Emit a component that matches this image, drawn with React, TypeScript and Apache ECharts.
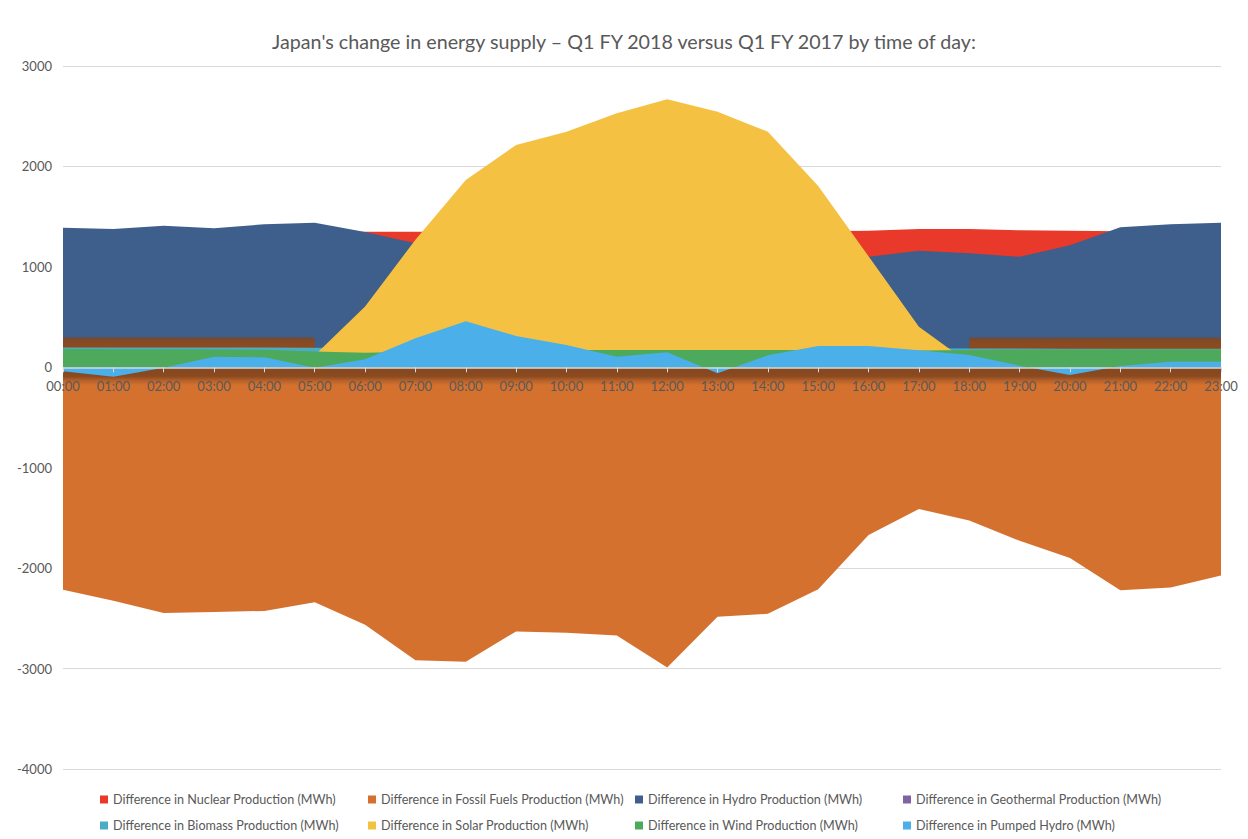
import React, { useEffect, useRef } from "react";
import * as echarts from "echarts";

const hours = [
  "00:00", "01:00", "02:00", "03:00", "04:00", "05:00", "06:00", "07:00",
  "08:00", "09:00", "10:00", "11:00", "12:00", "13:00", "14:00", "15:00",
  "16:00", "17:00", "18:00", "19:00", "20:00", "21:00", "22:00", "23:00",
];

const nuclear = [1330, 1330, 1330, 1335, 1340, 1340, 1350, 1350, 1350, 1350, 1350, 1350, 1350, 1350, 1355, 1355, 1360, 1377, 1377, 1364, 1360, 1355, 1350, 1350];
const fossil = [-2215, -2325, -2446, -2436, -2426, -2340, -2564, -2917, -2931, -2630, -2644, -2670, -2990, -2485, -2455, -2209, -1671, -1412, -1525, -1728, -1900, -2219, -2193, -2073];
const hydro = [1390, 1377, 1410, 1384, 1424, 1440, 1348, 1235, 1200, 1180, 1170, 1160, 1150, 1150, 1140, 1130, 1100, 1160, 1135, 1100, 1215, 1395, 1425, 1440];
const geothermal: (number | null)[] = [302, 302, 302, 302, 302, 302, null, null, null, null, null, null, null, null, null, null, null, null, 300, 300, 300, 300, 300, 300];
const biomass = [198, 198, 198, 198, 198, 195, 190, 190, 190, 190, 190, 190, 190, 190, 190, 190, 190, 190, 188, 186, 185, 185, 185, 185];
const solar = [0, 0, 0, 0, 0, 120, 605, 1270, 1865, 2214, 2346, 2529, 2668, 2545, 2346, 1805, 1105, 404, 40, 0, 0, 0, 0, 0];
const wind = [182, 180, 180, 178, 175, 157, 145, 155, 165, 170, 172, 172, 172, 172, 172, 172, 170, 168, 172, 176, 178, 180, 180, 180];
const pumped = [-40, -93, -5, 105, 100, -5, 80, 290, 458, 312, 222, 106, 149, -60, 119, 212, 212, 170, 122, 16, -77, 13, 56, 56];

const yMin = -4000;
const yMax = 3000;
const yStep = 1000;

const names = [
  "Difference in Nuclear Production (MWh)",
  "Difference in Fossil Fuels Production (MWh)",
  "Difference in Hydro Production (MWh)",
  "Difference in Geothermal Production (MWh)",
  "Difference in Biomass Production (MWh)",
  "Difference in Solar Production (MWh)",
  "Difference in Wind Production (MWh)",
  "Difference in Pumped Hydro (MWh)",
];

const colors = ["#E8392A", "#D5712E", "#3E5E8C", "#8064A2", "#4BACC6", "#F5C143", "#4DAA5C", "#4BAFEA"];

const FONT = "Lato, 'Open Sans', sans-serif";

export default function App() {
  const ref = useRef<HTMLDivElement>(null);

  useEffect(() => {
    if (!ref.current) return;
    const chart = echarts.init(ref.current, undefined, { renderer: "svg" });

    const datasets = [nuclear, fossil, hydro, geothermal, biomass, solar, wind, pumped];

    const areaColor = (i: number): any => {
      if (i === 1) {
        return new echarts.graphic.LinearGradient(0, 0, 0, 1, [
          { offset: 0, color: "#85471F" },
          { offset: 0.03, color: "#8B4A20" },
          { offset: 0.045, color: "#B8622A" },
          { offset: 0.06, color: "#D5712E" },
          { offset: 1, color: "#D5712E" },
        ]);
      }
      if (i === 3) {
        return new echarts.graphic.LinearGradient(0, 0, 0, 1, [
          { offset: 0, color: "#5E5156" },
          { offset: 0.08, color: "#7A4A2C" },
          { offset: 0.2, color: "#8B4A20" },
          { offset: 1, color: "#8B4A20" },
        ]);
      }
      return colors[i];
    };

    const series = datasets.map((d, i) => ({
      name: names[i],
      type: "line",
      data: d,
      showSymbol: false,
      symbol: "none",
      connectNulls: false,
      lineStyle: { width: 0 },
      itemStyle: { color: colors[i] },
      areaStyle: { color: areaColor(i), opacity: 1 },
      emphasis: { disabled: true },
      z: 2,
    }));

    const gridTop = 66;
    const gridBottom = 70;
    const gridH = 839 - gridTop - gridBottom;
    const zeroFromBottom = (gridH * (0 - yMin)) / (yMax - yMin);

    const iconX = [100, 368, 635, 903];
    const rowY = [793, 819];
    const legends = names.map((n, i) => ({
      data: [n],
      left: iconX[i % 4],
      top: rowY[Math.floor(i / 4)],
      icon: "rect",
      itemWidth: 8,
      itemHeight: 8,
      padding: 0,
      textStyle: { color: "#595959", fontSize: 12.6, fontFamily: FONT },
    }));

    chart.setOption({
      animation: false,
      backgroundColor: "#ffffff",
      textStyle: { fontFamily: FONT },
      title: {
        text: "Japan's change in energy supply \u2013 Q1 FY 2018 versus Q1 FY 2017 by time of day:",
        left: "center",
        top: 26,
        textStyle: { color: "#595959", fontSize: 19.7, fontWeight: "normal", fontFamily: FONT },
      },
      legend: legends,
      grid: { left: 63, right: 27, top: gridTop, bottom: gridBottom, containLabel: false },
      xAxis: {
        type: "category",
        data: hours,
        boundaryGap: false,
        z: 10,
        offset: -zeroFromBottom,
        axisLine: { onZero: false, lineStyle: { color: "#D9D9D9", width: 1.5 } },
        axisTick: { show: true, length: 5, lineStyle: { color: "#D9D9D9" } },
        axisLabel: { color: "#595959", fontSize: 13, margin: 12, interval: 0, fontFamily: FONT },
        splitLine: { show: false },
      },
      yAxis: {
        type: "value",
        min: yMin,
        max: yMax,
        interval: yStep,
        axisLine: { show: false },
        axisTick: { show: false },
        axisLabel: {
          color: "#595959",
          fontSize: 13,
          margin: 11,
          fontFamily: FONT,
          formatter: (v: number) => String(v),
        },
        splitLine: { lineStyle: { color: "#D9D9D9", width: 1 } },
      },
      series,
    });

    return () => chart.dispose();
  }, []);

  return (
    <div
      ref={ref}
      style={{ position: "fixed", left: 0, top: 0, width: 1248, height: 839, background: "#fff" }}
    />
  );
}
